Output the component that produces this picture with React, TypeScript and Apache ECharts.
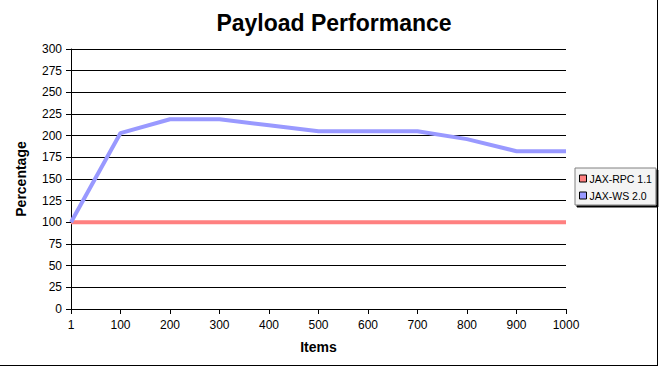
import React, { useEffect, useRef } from "react";
import * as echarts from "echarts";

const categories = ["1", "100", "200", "300", "400", "500", "600", "700", "800", "900", "1000"];
const jaxRpc = [100, 100, 100, 100, 100, 100, 100, 100, 100, 100, 100];
const jaxWs = [100, 203, 219, 219, 212, 205, 205, 205, 196, 182, 182];
const yTicks = { min: 0, max: 300, interval: 25 };

export default function App() {
  const ref = useRef<HTMLDivElement>(null);
  useEffect(() => {
    document.body.style.margin = "0";
    const chart = echarts.init(ref.current!, null, { renderer: "svg" });
    const font = "Arial, 'Liberation Sans', sans-serif";
    chart.setOption({
      animation: false,
      backgroundColor: "#fff",
      title: {
        text: "Payload Performance",
        left: 329,
        top: 6,
        textAlign: "center",
        textStyle: { fontFamily: font, fontSize: 23, fontWeight: "bold", color: "#000" },
      },
      grid: { left: 71, right: 94, top: 49, bottom: 58, containLabel: false },
      legend: {
        orient: "vertical",
        left: 575,
        top: 168,
        padding: [5, 4, 4, 4],
        itemGap: 6,
        itemWidth: 7,
        itemHeight: 7,
        icon: "rect",
        borderColor: "#808080",
        borderWidth: 1,
        backgroundColor: "#f4f4f4",
        shadowColor: "#000",
        shadowOffsetX: 2,
        shadowOffsetY: 2,
        itemStyle: { borderColor: "#000", borderWidth: 1 },
        textStyle: { fontFamily: font, fontSize: 10.5, color: "#000", padding: [0, 0, 0, -2] },
        data: ["JAX-RPC 1.1", "JAX-WS 2.0"],
      },
      xAxis: {
        type: "category",
        data: categories,
        boundaryGap: false,
        name: "Items",
        nameLocation: "middle",
        nameGap: 31,
        nameTextStyle: { fontFamily: font, fontSize: 14, fontWeight: "bold", color: "#000" },
        axisLine: { lineStyle: { color: "#000", width: 1 } },
        axisTick: { show: true, length: 5, lineStyle: { color: "#000" } },
        axisLabel: { fontFamily: font, fontSize: 12, color: "#000", margin: 10 },
        splitLine: { show: false },
      },
      yAxis: {
        type: "value",
        min: yTicks.min,
        max: yTicks.max,
        interval: yTicks.interval,
        name: "Percentage",
        nameLocation: "middle",
        nameGap: 43,
        nameRotate: 90,
        nameTextStyle: { fontFamily: font, fontSize: 14, fontWeight: "bold", color: "#000" },
        axisLine: { show: true, lineStyle: { color: "#000", width: 1 } },
        axisTick: { show: true, length: 5, lineStyle: { color: "#000" } },
        axisLabel: { fontFamily: font, fontSize: 12, color: "#000", margin: 9 },
        splitLine: { show: true, lineStyle: { color: "#000", width: 1 } },
      },
      series: [
        {
          name: "JAX-RPC 1.1",
          type: "line",
          data: jaxRpc,
          symbol: "none",
          color: "#ff8080",
          lineStyle: { color: "#ff8080", width: 4 },
          z: 3,
        },
        {
          name: "JAX-WS 2.0",
          type: "line",
          data: jaxWs,
          symbol: "none",
          color: "#9999ff",
          lineStyle: { color: "#9999ff", width: 4 },
          z: 4,
        },
      ],
      graphic: [
        { type: "line", shape: { x1: 657.5, y1: 0, x2: 657.5, y2: 366 }, style: { stroke: "#000", lineWidth: 1 } },
        { type: "line", shape: { x1: 0, y1: 365.5, x2: 658, y2: 365.5 }, style: { stroke: "#000", lineWidth: 1 } },
      ],
    });
    return () => chart.dispose();
  }, []);
  return <div ref={ref} style={{ width: 660, height: 367 }} />;
}
